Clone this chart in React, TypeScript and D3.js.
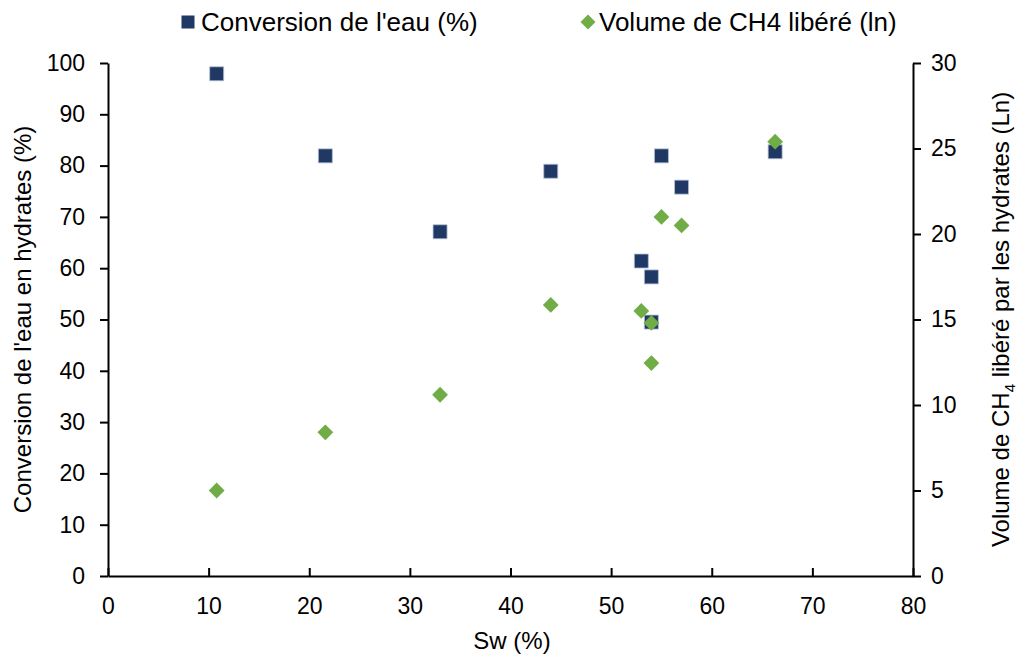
import * as React from "react"
import * as d3 from "d3"

// Sw (%) for each test
const sw = [10.8, 21.6, 33, 44, 53, 54, 54, 55, 57, 66.3]
// conversion de l'eau en hydrates (%)
const conversion = [97.9, 81.9, 67.1, 78.9, 61.4, 58.3, 49.5, 81.9, 75.8, 82.7]
// volume de CH4 libéré (Ln)
const volume = [5.0, 8.4, 10.6, 15.85, 15.5, 14.8, 12.45, 21.0, 20.5, 25.4]

const xTicks = [0, 10, 20, 30, 40, 50, 60, 70, 80]
const leftTicks = [0, 10, 20, 30, 40, 50, 60, 70, 80, 90, 100]
const rightTicks = [0, 5, 10, 15, 20, 25, 30]

const NAVY = "#1F3864"
const GREEN = "#70AD47"
const FONT = "'Liberation Sans', Arial, sans-serif"

function render(svgRef: React.RefObject<SVGSVGElement>) {
  const width = 1019
  const height = 657
  const margin = { top: 63, right: 106, bottom: 81, left: 108 }

  const svg = d3.select(svgRef.current).attr("width", width).attr("height", height)
  svg.selectAll("*").remove()

  const x = d3
    .scaleLinear()
    .domain([0, 80])
    .range([margin.left, width - margin.right])
  const yL = d3
    .scaleLinear()
    .domain([0, 100])
    .range([height - margin.bottom, margin.top])
  const yR = d3
    .scaleLinear()
    .domain([0, 30])
    .range([height - margin.bottom, margin.top])

  const g = svg.append("g")

  // x axis, ticks point inside
  const xAxis = g
    .append("g")
    .attr("transform", `translate(0,${height - margin.bottom})`)
    .call(
      d3
        .axisBottom(x)
        .tickValues(xTicks)
        .tickSizeInner(-8)
        .tickSizeOuter(0)
        .tickPadding(22)
    )

  const yAxisL = g
    .append("g")
    .attr("transform", `translate(${margin.left},0)`)
    .call(d3.axisLeft(yL).tickValues(leftTicks).tickSize(8).tickSizeOuter(0).tickPadding(15))

  const yAxisR = g
    .append("g")
    .attr("transform", `translate(${width - margin.right},0)`)
    .call(d3.axisRight(yR).tickValues(rightTicks).tickSize(8).tickSizeOuter(0).tickPadding(10))

  ;[xAxis, yAxisL, yAxisR].forEach((a) => {
    a.selectAll("path, line").attr("stroke", "#000").attr("stroke-width", 2)
    a.selectAll("text")
      .attr("fill", "#000")
      .style("font-family", FONT)
      .style("font-size", "23px")
  })

  // axis titles
  g.append("text")
    .attr("x", 512)
    .attr("y", 649)
    .attr("text-anchor", "middle")
    .style("font-family", FONT)
    .style("font-size", "24px")
    .text("Sw (%)")

  g.append("text")
    .attr("transform", `translate(31,${(margin.top + height - margin.bottom) / 2}) rotate(-90)`)
    .attr("text-anchor", "middle")
    .style("font-family", FONT)
    .style("font-size", "24px")
    .text("Conversion de l'eau en hydrates (%)")

  const rt = g
    .append("text")
    .attr("transform", `translate(1009,${(margin.top + height - margin.bottom) / 2}) rotate(-90)`)
    .attr("text-anchor", "middle")
    .style("font-family", FONT)
    .style("font-size", "24px")
  rt.append("tspan").text("Volume de CH")
  rt.append("tspan").attr("dy", 6).style("font-size", "15px").text("4")
  rt.append("tspan").attr("dy", -6).text(" libéré par les hydrates (Ln)")

  const square = d3.symbol().type(d3.symbolSquare).size(196)
  const diamond = d3.symbol().type(d3.symbolSquare).size(125)

  // squares: conversion
  g.append("g")
    .selectAll("path")
    .data(sw.map((s, i) => [s, conversion[i]]))
    .join("path")
    .attr("d", square())
    .attr("transform", (d) => `translate(${x(d[0])},${yL(d[1])})`)
    .attr("fill", NAVY)
    .attr("stroke", "#B4C0D6")
    .attr("stroke-width", 0.8)

  // diamonds: volume CH4
  g.append("g")
    .selectAll("path")
    .data(sw.map((s, i) => [s, volume[i]]))
    .join("path")
    .attr("d", diamond())
    .attr("transform", (d) => `translate(${x(d[0])},${yR(d[1])}) rotate(45)`)
    .attr("fill", GREEN)

  // legend
  const leg = g.append("g").style("font-family", FONT).style("font-size", "26px")
  leg.append("path")
    .attr("d", d3.symbol().type(d3.symbolSquare).size(169)())
    .attr("transform", "translate(188,22)")
    .attr("fill", NAVY)
  leg.append("text").attr("x", 201).attr("y", 31).text("Conversion de l'eau (%)")
  leg.append("path")
    .attr("d", d3.symbol().type(d3.symbolSquare).size(112)())
    .attr("transform", "translate(588,22) rotate(45)")
    .attr("fill", GREEN)
  leg.append("text").attr("x", 599).attr("y", 31).text("Volume de CH4 libéré (ln)")
}

export default function App(): React.JSX.Element {
  const svg = React.useRef<SVGSVGElement>(null)

  React.useEffect(() => {
    render(svg)
  }, [])

  return (
    <div style={{ position: "absolute", left: 0, top: 0, background: "#fff" }}>
      <svg ref={svg} style={{ display: "block" }}></svg>
    </div>
  )
}
